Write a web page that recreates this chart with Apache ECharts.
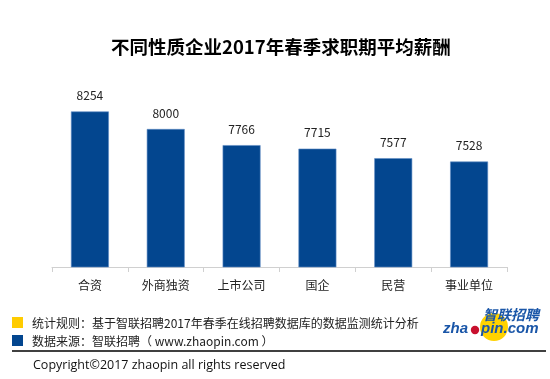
<!DOCTYPE html>
<html><head><meta charset="utf-8">
<script src="https://cdn.jsdelivr.net/npm/echarts@6/dist/echarts.min.js"></script>
<style>html,body{margin:0;padding:0;background:#fff}#c{width:550px;height:379px}</style>
</head><body><div id="c"></div>
<script>
const titleText = '不同性质企业2017年春季求职期平均薪酬';
const categories = ['合资', '外商独资', '上市公司', '国企', '民营', '事业单位'];
const salaries = [8254, 8000, 7766, 7715, 7577, 7528];
const yMin = 6000, yMax = 9000;
const noteRule = '统计规则：基于智联招聘2017年春季在线招聘数据库的数据监测统计分析';
const noteSource = '数据来源：智联招聘（ www.zhaopin.com ）';
const copyright = 'Copyright©2017 zhaopin all rights reserved';

const FONT = '"Noto Sans CJK SC", "Noto Sans", sans-serif';
const chart = echarts.init(document.getElementById('c'), null, {renderer: 'canvas'});
chart.setOption({
  animation: false,
  backgroundColor: '#fff',
  textStyle: {fontFamily: FONT},
  title: {
    text: titleText, left: 106, top: 33,
    textStyle: {fontSize: 18.5, fontWeight: 'bold', color: '#000', fontFamily: FONT}
  },
  grid: {left: 52, right: 43, top: 60, bottom: 112, containLabel: false},
  xAxis: {
    type: 'category', data: categories,
    axisLine: {lineStyle: {color: '#d0d0d0', width: 1}},
    axisTick: {show: true, alignWithLabel: false, length: 5, lineStyle: {color: '#d0d0d0'}},
    axisLabel: {color: '#222', fontSize: 12, margin: 12, fontFamily: FONT}
  },
  yAxis: {type: 'value', min: yMin, max: yMax, show: false, splitLine: {show: false}},
  series: [{
    type: 'bar', data: salaries, barWidth: '50%',
    itemStyle: {color: '#03468f', borderColor: '#5f8cc4', borderWidth: 0.6},
    label: {show: true, position: 'top', distance: 10, color: '#222', fontSize: 12, fontFamily: FONT}
  }],
  graphic: [
    {type: 'rect', shape: {x: 12, y: 317, width: 11, height: 11}, style: {fill: '#ffcc00'}},
    {type: 'text', x: 32, y: 323.5, style: {text: noteRule, fill: '#222', font: '12px ' + FONT, textVerticalAlign: 'middle'}},
    {type: 'rect', shape: {x: 12, y: 335, width: 11, height: 11}, style: {fill: '#03468f'}},
    {type: 'text', x: 32, y: 341, style: {text: noteSource, fill: '#222', font: '12px ' + FONT, textVerticalAlign: 'middle'}},
    {type: 'line', shape: {x1: 12, y1: 351, x2: 546, y2: 351}, style: {stroke: '#000', lineWidth: 1.5}},
    {type: 'text', x: 33, y: 365, style: {text: copyright, font: '12.5px "Open Sans", "Noto Sans", sans-serif', fill: '#111', textVerticalAlign: 'middle'}},
    {type: 'circle', shape: {cx: 494, cy: 327, r: 14}, style: {fill: '#ffd200'}},
    {type: 'text', x: 483, y: 315, style: {text: '智联招聘', font: 'italic bold 14px "Noto Sans CJK SC", sans-serif', fill: '#1a56a8', textAlign: 'left', textVerticalAlign: 'middle'}},
    {type: 'text', x: 443, y: 329, style: {text: 'zha', font: 'italic bold 15px "Liberation Sans", Arial, sans-serif', fill: '#1a56a8', textVerticalAlign: 'middle'}},
    {type: 'circle', shape: {cx: 475, cy: 330, r: 4.2}, style: {fill: '#c8102e'}},
    {type: 'text', x: 481, y: 329, style: {text: 'pin.com', font: 'italic bold 15px "Liberation Sans", Arial, sans-serif', fill: '#1a56a8', textAlign: 'left', textVerticalAlign: 'middle'}}
  ]
});
</script></body></html>
